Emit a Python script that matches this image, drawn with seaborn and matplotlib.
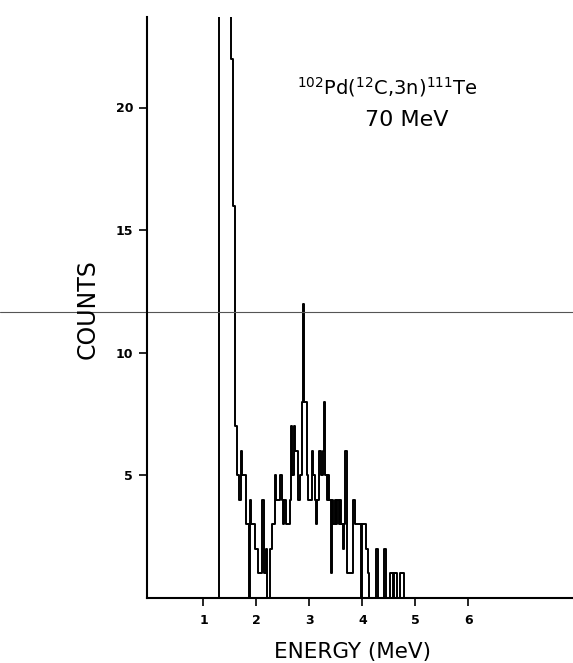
import numpy as np
import pandas as pd
import matplotlib
matplotlib.use("Agg")
import matplotlib.pyplot as plt
import seaborn as sns

# ---- data ----
bin_width = 0.025         # MeV per channel
first_edge = 1.275        # MeV
counts = (
    [0, 40, 40, 40, 40, 40, 40, 40, 40] +          # 1.275 - 1.475
    [40, 22, 16, 16, 7, 5, 5, 4] +                  # 1.500 -
    [6, 5, 5, 5, 3, 3, 0, 4] +                      # 1.700 -
    [3, 3, 3, 2, 2, 1, 1, 1] +                      # 1.900 -
    [4, 4, 1, 2, 0, 0, 2, 2] +                      # 2.100 -
    [3, 3, 5, 4, 4, 4, 5, 4] +                      # 2.300 -
    [3, 4, 3, 3, 3, 4, 7, 5] +                      # 2.500 -
    [7, 6, 6, 4, 4, 5, 8, 12] +                     # 2.700 -
    [8, 8, 5, 4, 4, 4, 6, 5] +                      # 2.900 -
    [4, 3, 4, 6, 6, 5, 6, 8] +                      # 3.100 -
    [5, 4, 5, 4, 1, 4, 3, 4] +                      # 3.300 -
    [3, 4, 3, 4, 3, 2, 3, 6] +                      # 3.500 -
    [1, 1, 1, 1, 1, 4, 3, 3] +                      # 3.700 -
    [3, 3, 3, 0, 3, 3, 3, 2] +                      # 3.900 -
    [1, 0, 0, 0, 0, 0, 2, 2] +                      # 4.100 -
    [0, 0, 0, 0, 2, 2, 0, 0] +                      # 4.300 -
    [0, 1, 1, 0, 1, 1, 0, 0] +                      # 4.500 -
    [1, 1, 1, 0]                                    # 4.700 -
)
x_ticks = [1, 2, 3, 4, 5, 6]
y_ticks = [5, 10, 15, 20]
title_line1 = r"$^{102}$Pd($^{12}$C,3n)$^{111}$Te"
title_line2 = "70 MeV"
x_label = "ENERGY (MeV)"
y_label = "COUNTS"
scan_line_level = 11.67   # stray horizontal line in the scan

n = len(counts)
centers = first_edge + bin_width * (np.arange(n) + 0.5)
df = pd.DataFrame({"energy": centers, "counts": counts})

sns.set_style("ticks")
plt.rcParams["font.family"] = ["DejaVu Sans"]

W, H = 573, 663
fig = plt.figure(figsize=(W / 100, H / 100), dpi=100)
ax = fig.add_axes([147 / W, 1 - 597.5 / H, (W - 147) / W, (597.5 - 17) / H])

sns.histplot(data=df, x="energy", weights="counts", binwidth=bin_width,
             binrange=(first_edge, first_edge + bin_width * n),
             element="step", fill=False, color="black", linewidth=1.4, ax=ax)

ax.set_xlim(-0.066, (W - 150.5) / 53.0)
ax.set_ylim(0, (597.5 - 17) / 24.5)

for side in ("top", "right"):
    ax.spines[side].set_visible(False)
for side in ("left", "bottom"):
    ax.spines[side].set_linewidth(1.5)
    ax.spines[side].set_color("black")

ax.set_xticks(x_ticks)
ax.set_yticks(y_ticks)
ax.set_xticklabels([str(t) for t in x_ticks], fontsize=9, fontweight="bold")
ax.set_yticklabels([str(t) for t in y_ticks], fontsize=9, fontweight="bold")
ax.tick_params(axis="both", direction="out", length=6, width=1.2,
               color="black", labelcolor="black")
ax.tick_params(axis="x", pad=6)
ax.tick_params(axis="y", pad=4)
ax.set_xlabel("")
ax.set_ylabel("")

# stray scan line across the page
ax.axhline(scan_line_level, xmin=-147 / (W - 147), xmax=1, color="#555555",
           linewidth=0.8, clip_on=False)

fig.text(88 / W, 1 - 309 / H, y_label, rotation=90, ha="center", va="center",
         fontsize=17, color="black")
fig.text(353 / W, 1 - 652 / H, x_label, ha="center", va="center",
         fontsize=15.5, color="black")
fig.text(387 / W, 1 - 87 / H, title_line1, ha="center", va="center",
         fontsize=14, color="black")
fig.text(407 / W, 1 - 120 / H, title_line2, ha="center", va="center",
         fontsize=16, color="black")

fig.savefig("out.png", dpi=100)
